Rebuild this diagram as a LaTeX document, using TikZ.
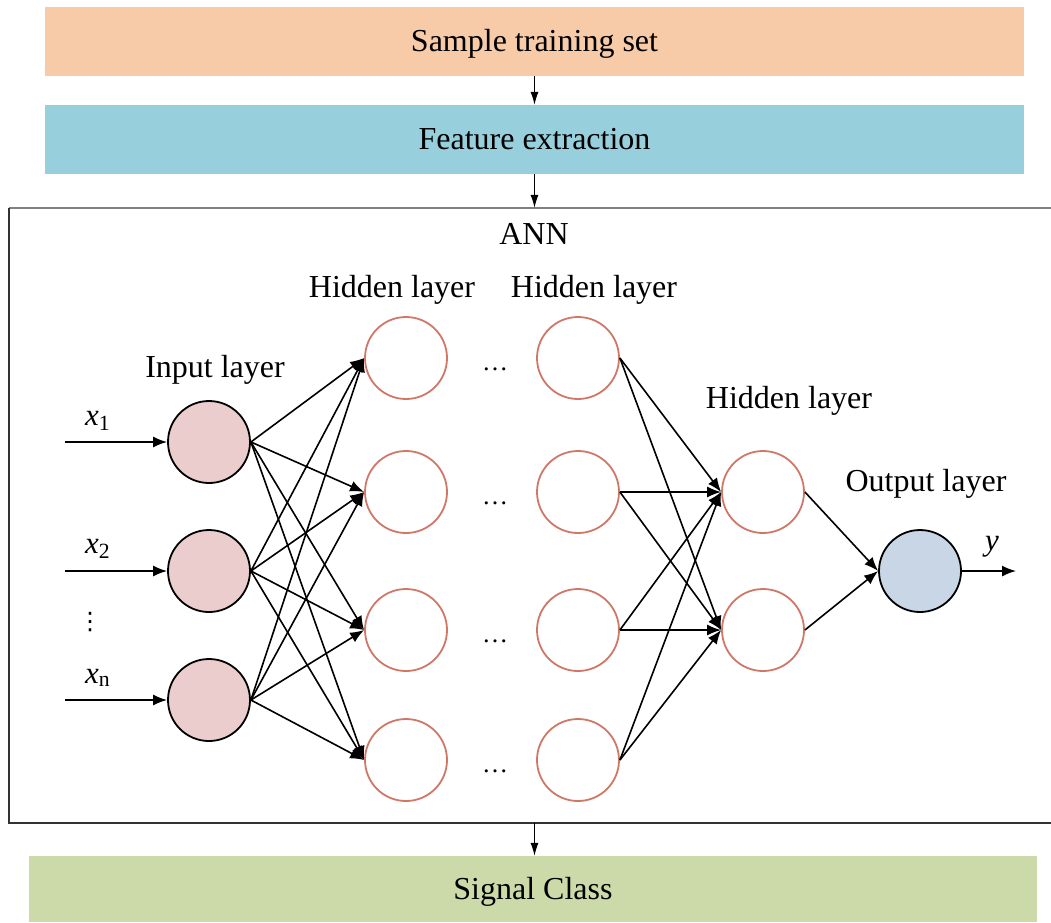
\documentclass[tikz,border=0pt]{standalone}
\usepackage{fontspec}
\setmainfont{Liberation Serif}
\newfontfamily\dvsans{DejaVu Sans}
\usetikzlibrary{arrows.meta}
\definecolor{peach}{HTML}{F8CBA8}
\definecolor{featblue}{HTML}{98CFDD}
\definecolor{sigreen}{HTML}{CCDAA9}
\definecolor{inpink}{HTML}{EBCDCD}
\definecolor{outblue}{HTML}{C8D6E6}
\definecolor{hidred}{HTML}{D07868}
\tikzset{
  stagebox/.style={rectangle, inner sep=0pt, minimum height=69pt, text height=20pt, text depth=0pt, font=\fontsize{32}{38}\selectfont},
  lbl/.style={anchor=base, font=\fontsize{32}{38}\selectfont, inner sep=0pt},
  innode/.style={circle, draw=black, line width=1.8pt, fill=inpink, minimum size=82pt, inner sep=0pt},
  hidnode/.style={circle, draw=hidred, line width=1.8pt, fill=white, minimum size=82pt, inner sep=0pt},
  outnode/.style={circle, draw=black, line width=1.8pt, fill=outblue, minimum size=82pt, inner sep=0pt},
  conn/.style={line width=1.6pt, -{Latex[length=14pt,width=11pt]}},
  flow/.style={line width=1pt, -{Latex[length=13pt,width=8pt]}},
  dotsl/.style={anchor=base, font=\fontsize{26}{30}\selectfont, inner sep=0pt},
  sublbl/.style={anchor=base west, inner sep=0pt, font=\fontsize{31}{36}\selectfont},
  frame/.style={line width=1.5pt},
}
\begin{document}
\begin{tikzpicture}[x=1pt,y=-1pt]
\useasboundingbox (0,0) rectangle (1051,922);
% stage boxes
\node[stagebox, fill=peach, minimum width=979pt] (sample) at (534.5,41.5) {Sample training set};
\node[stagebox, fill=featblue, minimum width=979pt] (feat) at (534.5,139.5) {Feature extraction};
\node[rectangle, minimum width=1100pt, minimum height=615pt, inner sep=0pt] (ann) at (559,515.5) {};
\draw[frame, draw=black!50] (ann.north west) -- (ann.north east);
\draw[frame, draw=black!80] (ann.north west) -- (ann.south west) -- (ann.south east);
\node[stagebox, fill=sigreen, minimum width=1008pt, minimum height=66pt] (signal) at (533,889) {Signal Class};
\draw[flow] (sample.south) -- (feat.north);
\draw[flow] (feat.south) -- (feat.south |- ann.north);
\draw[flow] (feat.south |- ann.south) -- (feat.south |- signal.north);
% labels
\node[lbl] (annl) at (534,244) {ANN};
\node[lbl] (hl1) at (392,297) {Hidden layer};
\node[lbl] (hl2) at (594,297) {Hidden layer};
\node[lbl] (hl3) at (789,408) {Hidden layer};
\node[lbl] (inl) at (215,377) {Input layer};
\node[lbl] (outl) at (926,491) {Output layer};
% nodes
\node[innode] (i1) at (209,442) {};
\node[innode] (i2) at (209,571) {};
\node[innode] (i3) at (209,700) {};
\foreach \k/\yy in {1/358,2/492,3/630,4/760}{
  \node[hidnode] (a\k) at (406,\yy) {};
  \node[hidnode] (b\k) at (578,\yy) {};
  \node[dotsl] (d\k) at (495,\yy+12) {…};
}
\node[hidnode] (c1) at (763,492) {};
\node[hidnode] (c2) at (763,630) {};
\node[outnode] (o) at (920,571) {};
% inputs
\coordinate (s1) at (65,442);
\coordinate (s2) at (65,571);
\coordinate (s3) at (65,700);
\draw[conn] (s1) -- (i1.west);
\draw[conn] (s2) -- (i2.west);
\draw[conn] (s3) -- (i3.west);
\node[sublbl] (x1) at (85,425) {\textit{x}\textsubscript{1}};
\node[sublbl] (x2) at (85,553) {\textit{x}\textsubscript{2}};
\node[sublbl] (xn) at (85,683) {\textit{x}\textsubscript{n}};
\node[inner sep=0pt, font=\dvsans\fontsize{24}{28}\selectfont] (vd) at (90,622) {⋮};
% connections
\foreach \i in {1,2,3}{
  \foreach \k in {1,2,3,4}{
    \draw[conn] (i\i.east) -- (a\k.west);
  }
}
\foreach \k in {1,2,3,4}{
  \draw[conn] (b\k.east) -- (c1.west);
  \draw[conn] (b\k.east) -- (c2.west);
}
\draw[conn] (c1.east) -- (o.west);
\draw[conn] (c2.east) -- (o.west);
\coordinate (yend) at (1016,571);
\draw[conn] (o.east) -- (yend);
\node[sublbl] (yl) at (985,550) {\textit{y}};
\end{tikzpicture}
\end{document}
